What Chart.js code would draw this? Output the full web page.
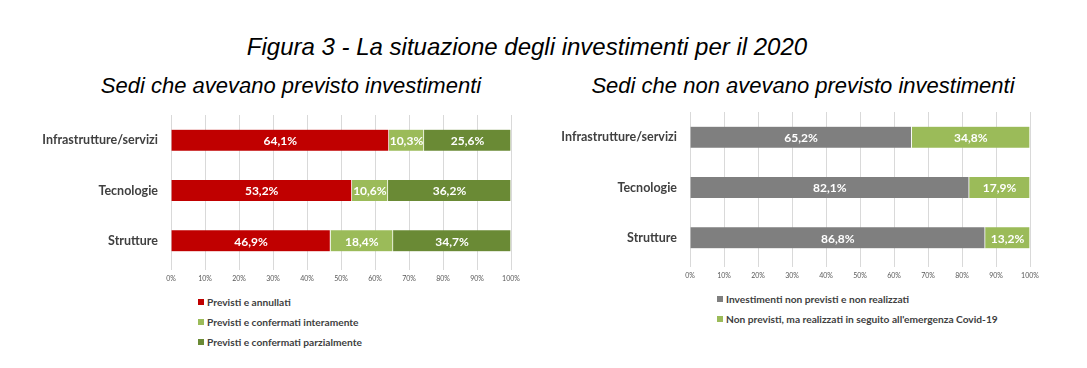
<!DOCTYPE html>
<html>
<head>
<meta charset="utf-8">
<script src="https://cdn.jsdelivr.net/npm/chart.js@4.4.0/dist/chart.umd.min.js"></script>
<style>
  body { margin: 0; background: #fff; width: 1087px; height: 368px; position: relative; overflow: hidden; font-family: "Liberation Sans", Arial, sans-serif; }
  .title { position: absolute; font-style: italic; color: #000; white-space: nowrap; transform: translateX(-50%); }
  canvas { position: absolute; }
  .legend { position: absolute; font-family: Lato, "Open Sans", sans-serif; font-weight: 700; font-size: 10.2px; color: #404040; }
  .legend div { height: 20px; line-height: 12px; white-space: nowrap; }
  .legend span { display: inline-block; width: 6px; height: 6px; margin-right: 3px; vertical-align: 1px; }
</style>
</head>
<body>
<div class="title" style="left:527px; top:33px; font-size:24px;">Figura 3 - La situazione degli investimenti per il 2020</div>
<div class="title" style="left:291px; top:73px; font-size:22px;">Sedi che avevano previsto investimenti</div>
<div class="title" style="left:803px; top:73px; font-size:22px;">Sedi che non avevano previsto investimenti</div>

<canvas id="left" width="510" height="172" style="left:20px; top:110px;"></canvas>
<canvas id="right" width="510" height="172" style="left:539px; top:107px;"></canvas>
<div class="legend" id="legendLeft" style="left:198px; top:296px;"></div>
<div class="legend" id="legendRight" style="left:717px; top:293px;"></div>

<script>
// dati
const categories = ['Infrastrutture/servizi', 'Tecnologie', 'Strutture'];
const xTicks = [0, 10, 20, 30, 40, 50, 60, 70, 80, 90, 100];

const leftLabels = ['Previsti e annullati', 'Previsti e confermati interamente', 'Previsti e confermati parzialmente'];
const annullati = [64.1, 53.2, 46.9];
const confermatiInteramente = [10.3, 10.6, 18.4];
const confermatiParzialmente = [25.6, 36.2, 34.7];

const rightLabels = ['Investimenti non previsti e non realizzati', "Non previsti, ma realizzati in seguito all'emergenza Covid-19"];
const nonRealizzati = [65.2, 82.1, 86.8];
const realizzatiCovid = [34.8, 17.9, 13.2];

const RED = '#C00000', LIGHT = '#9BBB59', DARK = '#6A8A35', GREY = '#7F7F7F';

const fmt = v => v.toFixed(1).replace('.', ',') + '%';

// etichette dentro le barre
const barLabels = {
  id: 'barLabels',
  afterDatasetsDraw(chart) {
    const ctx = chart.ctx;
    ctx.save();
    ctx.fillStyle = '#fff';
    ctx.font = 'bold 12px Lato, "Open Sans", sans-serif';
    ctx.textAlign = 'center';
    ctx.textBaseline = 'middle';
    chart.data.datasets.forEach((ds, i) => {
      chart.getDatasetMeta(i).data.forEach((el, j) => {
        ctx.fillText(fmt(ds.data[j]), (el.x + el.base) / 2, el.y + 1);
      });
    });
    ctx.restore();
  }
};

function makeChart(id, datasets) {
  return new Chart(document.getElementById(id), {
    type: 'bar',
    data: {
      labels: categories,
      datasets: datasets.map(d => ({
        label: d.label,
        data: d.data,
        backgroundColor: d.color,
        borderColor: 'rgba(255,255,255,0.85)',
        borderWidth: { left: 0, right: 1, top: 0, bottom: 0 },
        borderSkipped: false,
        barThickness: 21
      }))
    },
    options: {
      indexAxis: 'y',
      responsive: false,
      animation: false,
      devicePixelRatio: 1,
      layout: { padding: { top: 5, right: 19, bottom: 0, left: 0 } },
      plugins: { legend: { display: false }, tooltip: { enabled: false } },
      scales: {
        x: {
          stacked: true,
          min: 0,
          max: 100,
          afterBuildTicks: s => { s.ticks = xTicks.map(v => ({ value: v })); },
          afterFit: s => { s.height = 16; },
          grid: { color: '#D9D9D9', tickLength: 4 },
          border: { display: false },
          ticks: {
            callback: v => v + '%',
            font: { size: 7, family: 'Lato, "Open Sans", sans-serif' },
            color: '#595959',
            padding: 5,
            maxRotation: 0
          }
        },
        y: {
          stacked: true,
          afterFit: s => { s.width = 151; s.paddingTop = 0; s.paddingBottom = 0; },
          grid: { display: false },
          border: { display: false },
          ticks: {
            font: { size: 12.5, weight: 'bold', family: 'Lato, "Open Sans", sans-serif' },
            color: '#404040',
            padding: 5
          }
        }
      }
    },
    plugins: [barLabels]
  });
}

makeChart('left', [
  { label: leftLabels[0], data: annullati, color: RED },
  { label: leftLabels[1], data: confermatiInteramente, color: LIGHT },
  { label: leftLabels[2], data: confermatiParzialmente, color: DARK }
]);

makeChart('right', [
  { label: rightLabels[0], data: nonRealizzati, color: GREY },
  { label: rightLabels[1], data: realizzatiCovid, color: LIGHT }
]);

function buildLegend(id, labels, colors) {
  document.getElementById(id).innerHTML = labels
    .map((l, i) => `<div><span style="background:${colors[i]}"></span>${l}</div>`)
    .join('');
}
buildLegend('legendLeft', leftLabels, [RED, LIGHT, DARK]);
buildLegend('legendRight', rightLabels, [GREY, LIGHT]);
</script>
</body>
</html>
